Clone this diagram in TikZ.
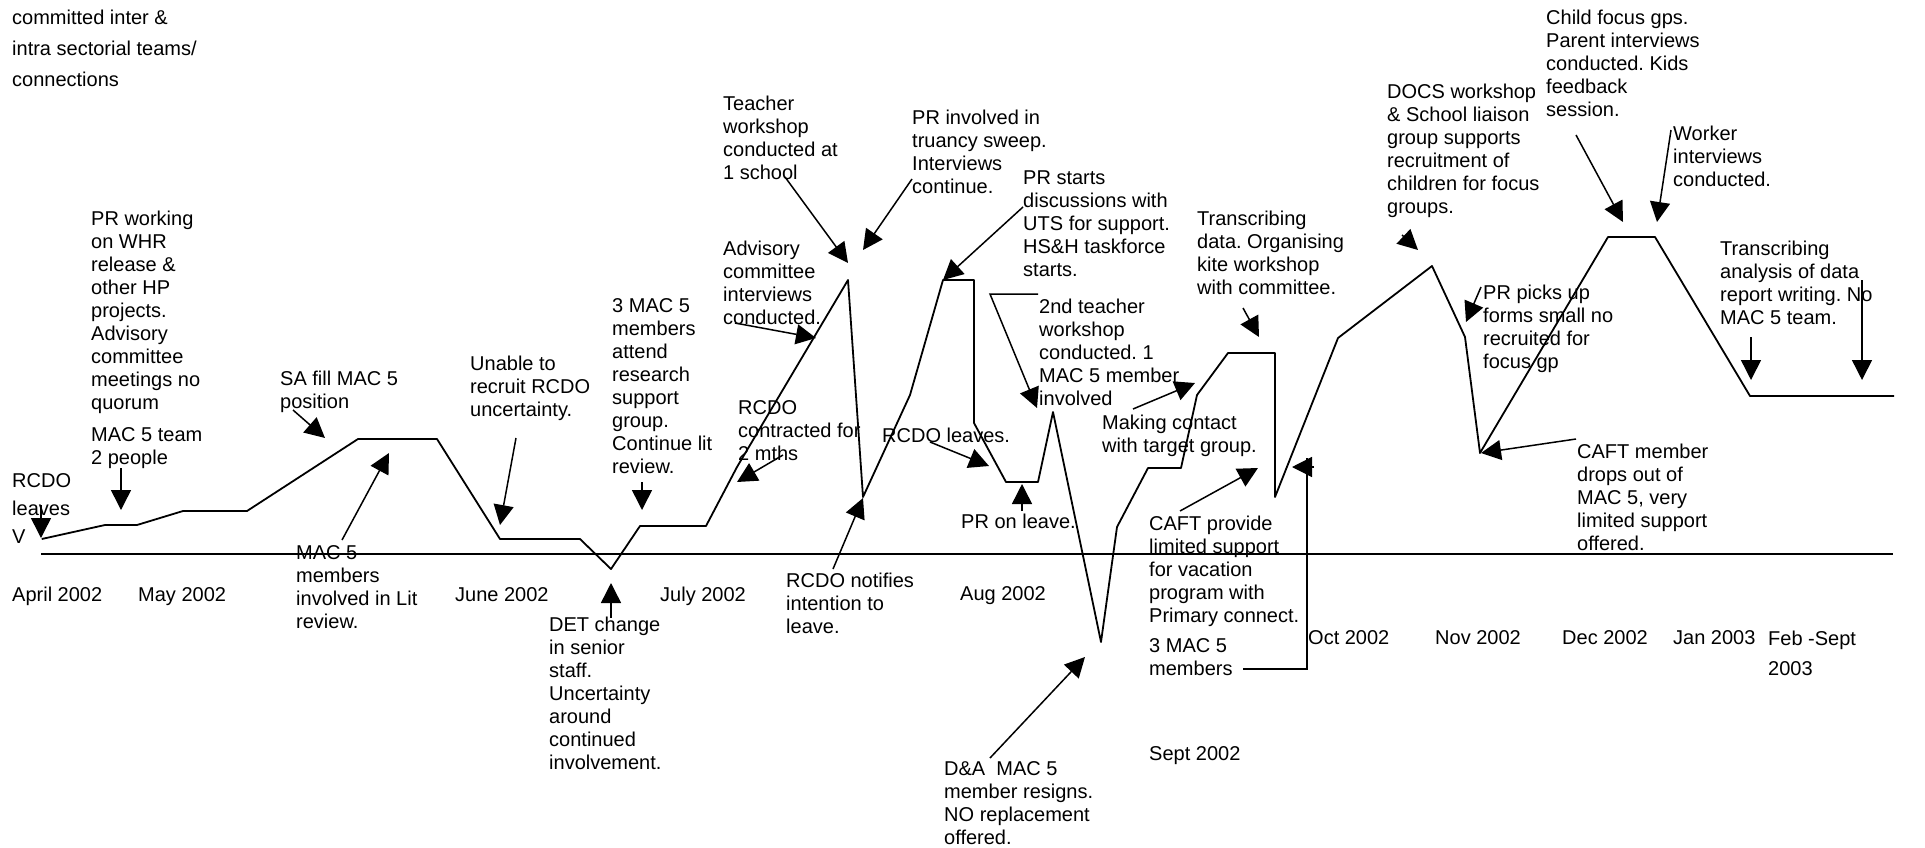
\documentclass[tikz,border=0pt]{standalone}
\usepackage{fontspec}
\setmainfont{Liberation Sans}
\usetikzlibrary{arrows.meta}
\newcommand{\mystrut}{\rule{0pt}{16pt}}
\frenchspacing
\begin{document}
\begin{tikzpicture}[x=1pt,y=-1pt,
  lbl/.style={anchor=north west,inner sep=0pt,align=left,font=\fontsize{20}{23}\selectfont\frenchspacing},
  arr/.style={line width=1.5pt,-{Triangle[length=20pt,width=20pt]}},
  plain/.style={line width=1.5pt},
  graphline/.style={line width=1.8pt,line join=round},
  axis/.style={line width=2pt}]
\fill[white] (0,0) rectangle (1925,847);
\useasboundingbox (0,0) rectangle (1925,847);

% axis
\coordinate (axL) at (41,554);
\coordinate (axR) at (1893,554);
\draw[axis] (axL) -- (axR);

% main graph line
\draw[graphline] (41.7,539) -- (105,525) -- (137,525) -- (183,511) -- (247,511)
  -- (358,439) -- (437,439) -- (500,539) -- (580,539) -- (611,569) -- (640,526)
  -- (706,526) -- (737,467) -- (848,280) -- (863,497) -- (910,395) -- (943,280)
  -- (974,280) -- (974,423) -- (1006,482) -- (1038,482) -- (1053,412)
  -- (1101,642) -- (1117,527) -- (1148,468) -- (1181,468) -- (1197,395)
  -- (1228,353) -- (1275,353) -- (1275,497) -- (1338,338) -- (1432,266)
  -- (1465,337) -- (1480,453) -- (1608,237) -- (1655,237) -- (1750,396)
  -- (1894,396);

% texts
\node[lbl] (tTop) at (12,8) {\mystrut committed inter \&\\[8pt]intra sectorial teams/\\[8pt]connections};
\node[lbl] (tPRw) at (91,209) {\mystrut PR working\\on WHR\\release \&\\other HP\\projects.\\Advisory\\committee\\meetings no\\quorum};
\node[lbl] (tMACteam) at (91,425) {\mystrut MAC 5 team\\2 people};
\node[lbl] (tRCDO1) at (12,471) {\mystrut RCDO\\[5pt]leaves\\[5pt]V};
\node[lbl] (tSA) at (280,369) {\mystrut SA fill MAC 5\\position};
\node[lbl] (tMACmem) at (296,543) {\mystrut MAC 5\\members\\involved in Lit\\review.};
\node[lbl] (tUnable) at (470,354) {\mystrut Unable to\\recruit RCDO\\uncertainty.};
\node[lbl] (t3MAC) at (612,296) {\mystrut 3 MAC 5\\members\\attend\\research\\support\\group.\\Continue lit\\review.};
\node[lbl] (tDET) at (549,615) {\mystrut DET change\\in senior\\staff.\\Uncertainty\\around\\continued\\involvement.};
\node[lbl] (tRCDOc) at (738,398) {\mystrut RCDO\\contracted for\\2 mths};
\node[lbl] (tAdv) at (723,239) {\mystrut Advisory\\committee\\interviews\\conducted.};
\node[lbl] (tTeach) at (723,94) {\mystrut Teacher\\workshop\\conducted at\\1 school};
\node[lbl] (tPRinv) at (912,108) {\mystrut PR involved in\\truancy sweep.\\Interviews\\continue.};
\node[lbl] (tPRst) at (1023,168) {\mystrut PR starts\\discussions with\\UTS for support.\\HS\&H taskforce\\starts.};
\node[lbl] (t2nd) at (1039,297) {\mystrut 2nd teacher\\workshop\\conducted. 1\\MAC 5 member\\involved};
\node[lbl] (tRCDOl) at (882,426) {\mystrut RCDO leaves.};
\node[lbl] (tRCDOn) at (786,571) {\mystrut RCDO notifies\\intention to\\leave.};
\node[lbl] (tPRleave) at (961,512) {\mystrut PR on leave.};
\node[lbl] (tMaking) at (1102,413) {\mystrut Making contact\\with target group.};
\node[lbl] (tTransD) at (1197,209) {\mystrut Transcribing\\data. Organising\\kite workshop\\with committee.};
\node[lbl] (tCAFTp) at (1149,514) {\mystrut CAFT provide\\limited support\\for vacation\\program with\\Primary connect.};
\node[lbl] (t3MACm) at (1149,636) {\mystrut 3 MAC 5\\members};
\node[lbl] (tDA) at (944,759) {\mystrut D\&A\ \ MAC 5\\member resigns.\\NO replacement\\offered.};
\node[lbl] (tDOCS) at (1387,82) {\mystrut DOCS workshop\\\& School liaison\\group supports\\recruitment of\\children for focus\\groups.};
\node[lbl] (tChild) at (1546,8) {\mystrut Child focus gps.\\Parent interviews\\conducted. Kids\\feedback\\session.};
\node[lbl] (tWorker) at (1673,124) {\mystrut Worker\\interviews\\conducted.};
\node[lbl] (tPRpick) at (1483,283) {\mystrut PR picks up\\forms small no\\recruited for\\focus gp};
\node[lbl] (tCAFTm) at (1577,442) {\mystrut CAFT member\\drops out of\\MAC 5, very\\limited support\\offered.};
\node[lbl] (tTransA) at (1720,239) {\mystrut Transcribing\\analysis of data\\report writing. No\\MAC 5 team.};

% month labels
\node[lbl] (mApr) at (12,585) {\mystrut April 2002};
\node[lbl] (mMay) at (138,585) {\mystrut May 2002};
\node[lbl] (mJun) at (455,585) {\mystrut June 2002};
\node[lbl] (mJul) at (660,585) {\mystrut July 2002};
\node[lbl] (mAug) at (960,584) {\mystrut Aug 2002};
\node[lbl] (mSep) at (1149,744) {\mystrut Sept 2002};
\node[lbl] (mOct) at (1308,628) {\mystrut Oct 2002};
\node[lbl] (mNov) at (1435,628) {\mystrut Nov 2002};
\node[lbl] (mDec) at (1562,628) {\mystrut Dec 2002};
\node[lbl] (mJan) at (1673,628) {\mystrut Jan 2003};
\node[lbl] (mFeb) at (1768,629) {\mystrut Feb -Sept\\[7pt]2003};

% callout arrows
\draw[arr] (41,505) -- (41,538);
\draw[arr] (121,468) -- (121,510);
\draw[arr] (293,410) -- (325,438);
\draw[arr] (342,540) -- (389,453);
\draw[arr] (516,438) -- (500,525);
\draw[arr] (642,482) -- (642,510);
\draw[arr] (611,618) -- (611,583);
\draw[arr] (783,455) -- (737,482);
\draw[arr] (735,323) -- (816,338);
\draw[arr] (785,177) -- (848,263);
\draw[arr] (912,179) -- (863,250);
\draw[arr] (1023,207) -- (943,280);
\draw[arr] (1038,294) -- (990,294) -- (1037,408);
\draw[arr] (930,442) -- (989,466);
\draw[arr] (833,569) -- (863,498);
\draw[arr] (1022,511) -- (1022,484);
\draw[arr] (1133,409) -- (1195,383);
\draw[arr] (1243,308) -- (1259,337);
\draw[arr] (1180,511) -- (1258,468);
\draw[plain] (1243,669) -- (1307,669) -- (1307,458);
\draw[arr] (1314,467) -- (1292,467);
\draw[arr] (990,758) -- (1085,657);
\draw[arr] (1402,235) -- (1418,250);
\draw[arr] (1576,135) -- (1623,222);
\draw[arr] (1671,130) -- (1657,222);
\draw[arr] (1481,287) -- (1466,322);
\draw[arr] (1576,439) -- (1481,453);
\draw[arr] (1751,337) -- (1751,380);
\draw[arr] (1862,280) -- (1862,380);
\end{tikzpicture}
\end{document}
